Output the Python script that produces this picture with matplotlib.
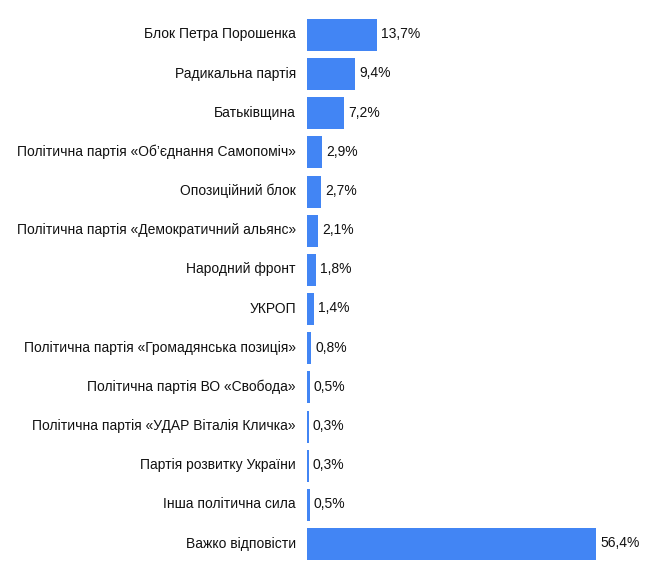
import matplotlib.pyplot as plt
import matplotlib.transforms as mtransforms

parties = [
    "Блок Петра Порошенка",
    "Радикальна партія",
    "Батьківщина",
    "Політична партія «Об’єднання Самопоміч»",
    "Опозиційний блок",
    "Політична партія «Демократичний альянс»",
    "Народний фронт",
    "УКРОП",
    "Політична партія «Громадянська позиція»",
    "Політична партія ВО «Свобода»",
    "Політична партія «УДАР Віталія Кличка»",
    "Партія розвитку України",
    "Інша політична сила",
    "Важко відповісти",
]
values = [13.7, 9.4, 7.2, 2.9, 2.7, 2.1, 1.8, 1.4, 0.8, 0.5, 0.3, 0.3, 0.5, 56.4]
value_labels = ["13,7%", "9,4%", "7,2%", "2,9%", "2,7%", "2,1%", "1,8%",
                "1,4%", "0,8%", "0,5%", "0,3%", "0,3%", "0,5%", "56,4%"]

plt.rcParams['font.family'] = ['Liberation Sans', 'DejaVu Sans']

W, H = 647, 578
fig = plt.figure(figsize=(W / 100, H / 100), dpi=100)
x0, x1 = 307, 596
y0, y1 = 19, 560
ax = fig.add_axes([x0 / W, 1 - y1 / H, (x1 - x0) / W, (y1 - y0) / H])

h = 0.817
pos = list(range(len(parties)))
ax.barh(pos, values, height=h, color="#4285f4")
ax.set_xlim(0, 56.4)
ax.set_ylim(len(parties) - 1 + h / 2, -h / 2)

for p, v, lab in zip(pos, values, value_labels):
    ax.annotate(lab, (v, p), xytext=(3, 0.5), textcoords="offset points",
                va="center", ha="left", fontsize=10, color="#111111")

ax.set_yticks(pos)
ax.set_yticklabels(parties, fontsize=10, color="#111111")
ax.tick_params(axis="y", length=0, pad=8)
# nudge category labels up slightly
shift = mtransforms.ScaledTranslation(0, 2 / 100, fig.dpi_scale_trans)
for t in ax.get_yticklabels():
    t.set_transform(t.get_transform() + shift)
ax.set_xticks([])
for s in ax.spines.values():
    s.set_visible(False)

fig.savefig("out.png", dpi=100)
